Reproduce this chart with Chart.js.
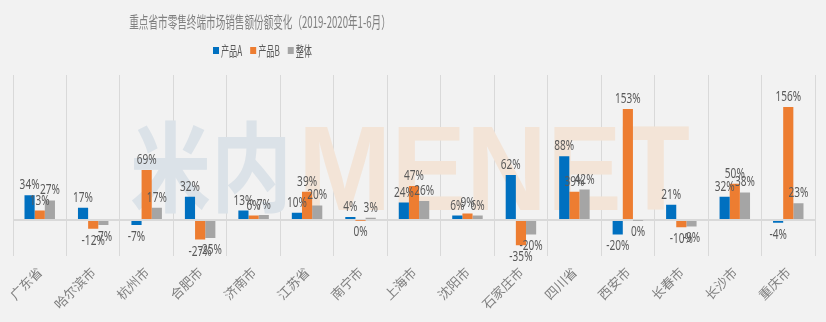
<!DOCTYPE html>
<html>
<head>
<meta charset="utf-8">
<script src="https://cdn.jsdelivr.net/npm/chart.js@4.4.0/dist/chart.umd.min.js"></script>
<style>
html, body { margin: 0; padding: 0; background: #f2f2f2; }
</style>
</head>
<body>
<canvas id="barChart" width="826" height="322"></canvas>
<script>
// data (percent change)
var cities = ["广东省", "哈尔滨市", "杭州市", "合肥市", "济南市", "江苏省", "南宁市", "上海市",
              "沈阳市", "石家庄市", "四川省", "西安市", "长春市", "长沙市", "重庆市"];
var productA = [34, 17, -7, 32, 13, 10, 4, 24, 6, 62, 88, -20, 21, 32, -4];
var productB = [13, -12, 69, -27, 6, 39, -0.4, 47, 9, -35, 39, 153, -10, 50, 156];
var overall  = [27, -7, 17, -25, 7, 20, 3, 26, 6, -20, 42, -0.4, -9, 38, 23];
var seriesNames = ["产品A", "产品B", "整体"];
var seriesColors = ["#0070c0", "#ed7d31", "#a5a5a5"];
var chartTitle = "重点省市零售终端市场销售额份额变化（2019-2020年1-6月）";
var yTicks = [-50, 0, 50, 100, 150, 200];

var cjk = '"Noto Sans CJK SC", "Noto Sans", sans-serif';

// faint watermark behind the bars
var watermark = {
    id: 'watermark',
    beforeDatasetsDraw: function(chart) {
        var ctx = chart.ctx;
        ctx.save();
        ctx.textBaseline = 'middle';
        ctx.textAlign = 'left';
        ctx.fillStyle = '#dbe2e8';
        ctx.font = 'bold 98px ' + cjk;
        ctx.fillText("米内", 130, 167, 162);
        ctx.fillStyle = '#f3e4d7';
        ctx.font = 'bold 121px "Liberation Sans", sans-serif';
        ctx.textBaseline = 'alphabetic';
        ctx.fillText("MENET", 298, 210, 392);
        ctx.restore();
    }
};

// value labels at the outer end of each bar
var valueLabels = {
    id: 'valueLabels',
    afterDatasetsDraw: function(chart) {
        var ctx = chart.ctx;
        ctx.save();
        ctx.fillStyle = '#595959';
        ctx.font = '14px "Noto Sans", sans-serif';
        ctx.textAlign = 'center';
        chart.data.datasets.forEach(function(ds, i) {
            chart.getDatasetMeta(i).data.forEach(function(bar, j) {
                var v = ds.data[j];
                var txt = Math.round(v) + '%';
                var y;
                ctx.save();
                if (v >= 0) {
                    ctx.textBaseline = 'alphabetic';
                    y = bar.y - 6;
                } else {
                    ctx.textBaseline = 'top';
                    y = bar.y + 5;
                }
                ctx.translate(bar.x, y);
                ctx.scale(0.72, 1);
                ctx.fillText(txt, 0, 0);
                ctx.restore();
            });
        });
        ctx.restore();
    }
};

// title and legend, drawn a bit left of centre like the original
var header = {
    id: 'header',
    afterDraw: function(chart) {
        var ctx = chart.ctx;
        ctx.save();
        ctx.fillStyle = '#808080';
        ctx.font = '16px ' + cjk;
        ctx.textAlign = 'center';
        ctx.textBaseline = 'middle';
        ctx.translate(260, 22);
        ctx.scale(0.6, 1);
        ctx.fillText(chartTitle, 0, 0);
        ctx.restore();

        var x = 213;
        ctx.save();
        ctx.font = '14px ' + cjk;
        ctx.textBaseline = 'middle';
        seriesNames.forEach(function(name, i) {
            ctx.fillStyle = seriesColors[i];
            ctx.fillRect(x, 47, 6, 7);
            ctx.fillStyle = '#595959';
            ctx.save();
            ctx.translate(x + 8, 51);
            ctx.scale(0.58, 1);
            ctx.fillText(name, 0, 0);
            var w = ctx.measureText(name).width * 0.58;
            ctx.restore();
            x += 8 + w + 8;
        });
        ctx.restore();
    }
};

var ctxB = document.getElementById("barChart").getContext('2d');
var myBarChart = new Chart(ctxB, {
    type: 'bar',
    data: {
        labels: cities,
        datasets: [
            { label: seriesNames[0], data: productA, backgroundColor: seriesColors[0] },
            { label: seriesNames[1], data: productB, backgroundColor: seriesColors[1] },
            { label: seriesNames[2], data: overall,  backgroundColor: seriesColors[2] }
        ]
    },
    options: {
        responsive: false,
        animation: false,
        datasets: {
            bar: { barPercentage: 1, categoryPercentage: 0.57 }
        },
        layout: {
            padding: { left: 13, right: 11, top: 75, bottom: 2 }
        },
        plugins: {
            legend: { display: false },
            title: { display: false },
            tooltip: { enabled: false }
        },
        scales: {
            x: {
                grid: { color: '#d9d9d9', drawTicks: false },
                border: { display: false },
                ticks: {
                    color: '#7f7f7f',
                    font: { family: cjk, size: 13 },
                    minRotation: 45,
                    maxRotation: 45,
                    padding: 8
                }
            },
            y: {
                min: yTicks[0],
                max: yTicks[yTicks.length - 1],
                afterBuildTicks: function(axis) {
                    axis.ticks = yTicks.map(function(v) { return { value: v }; });
                },
                ticks: { display: false },
                border: { display: false },
                grid: {
                    drawTicks: false,
                    lineWidth: 2,
                    color: function(c) { return c.tick && c.tick.value === 0 ? '#d9d9d9' : 'rgba(0,0,0,0)'; }
                }
            }
        }
    },
    plugins: [watermark, valueLabels, header]
});
</script>
</body>
</html>
